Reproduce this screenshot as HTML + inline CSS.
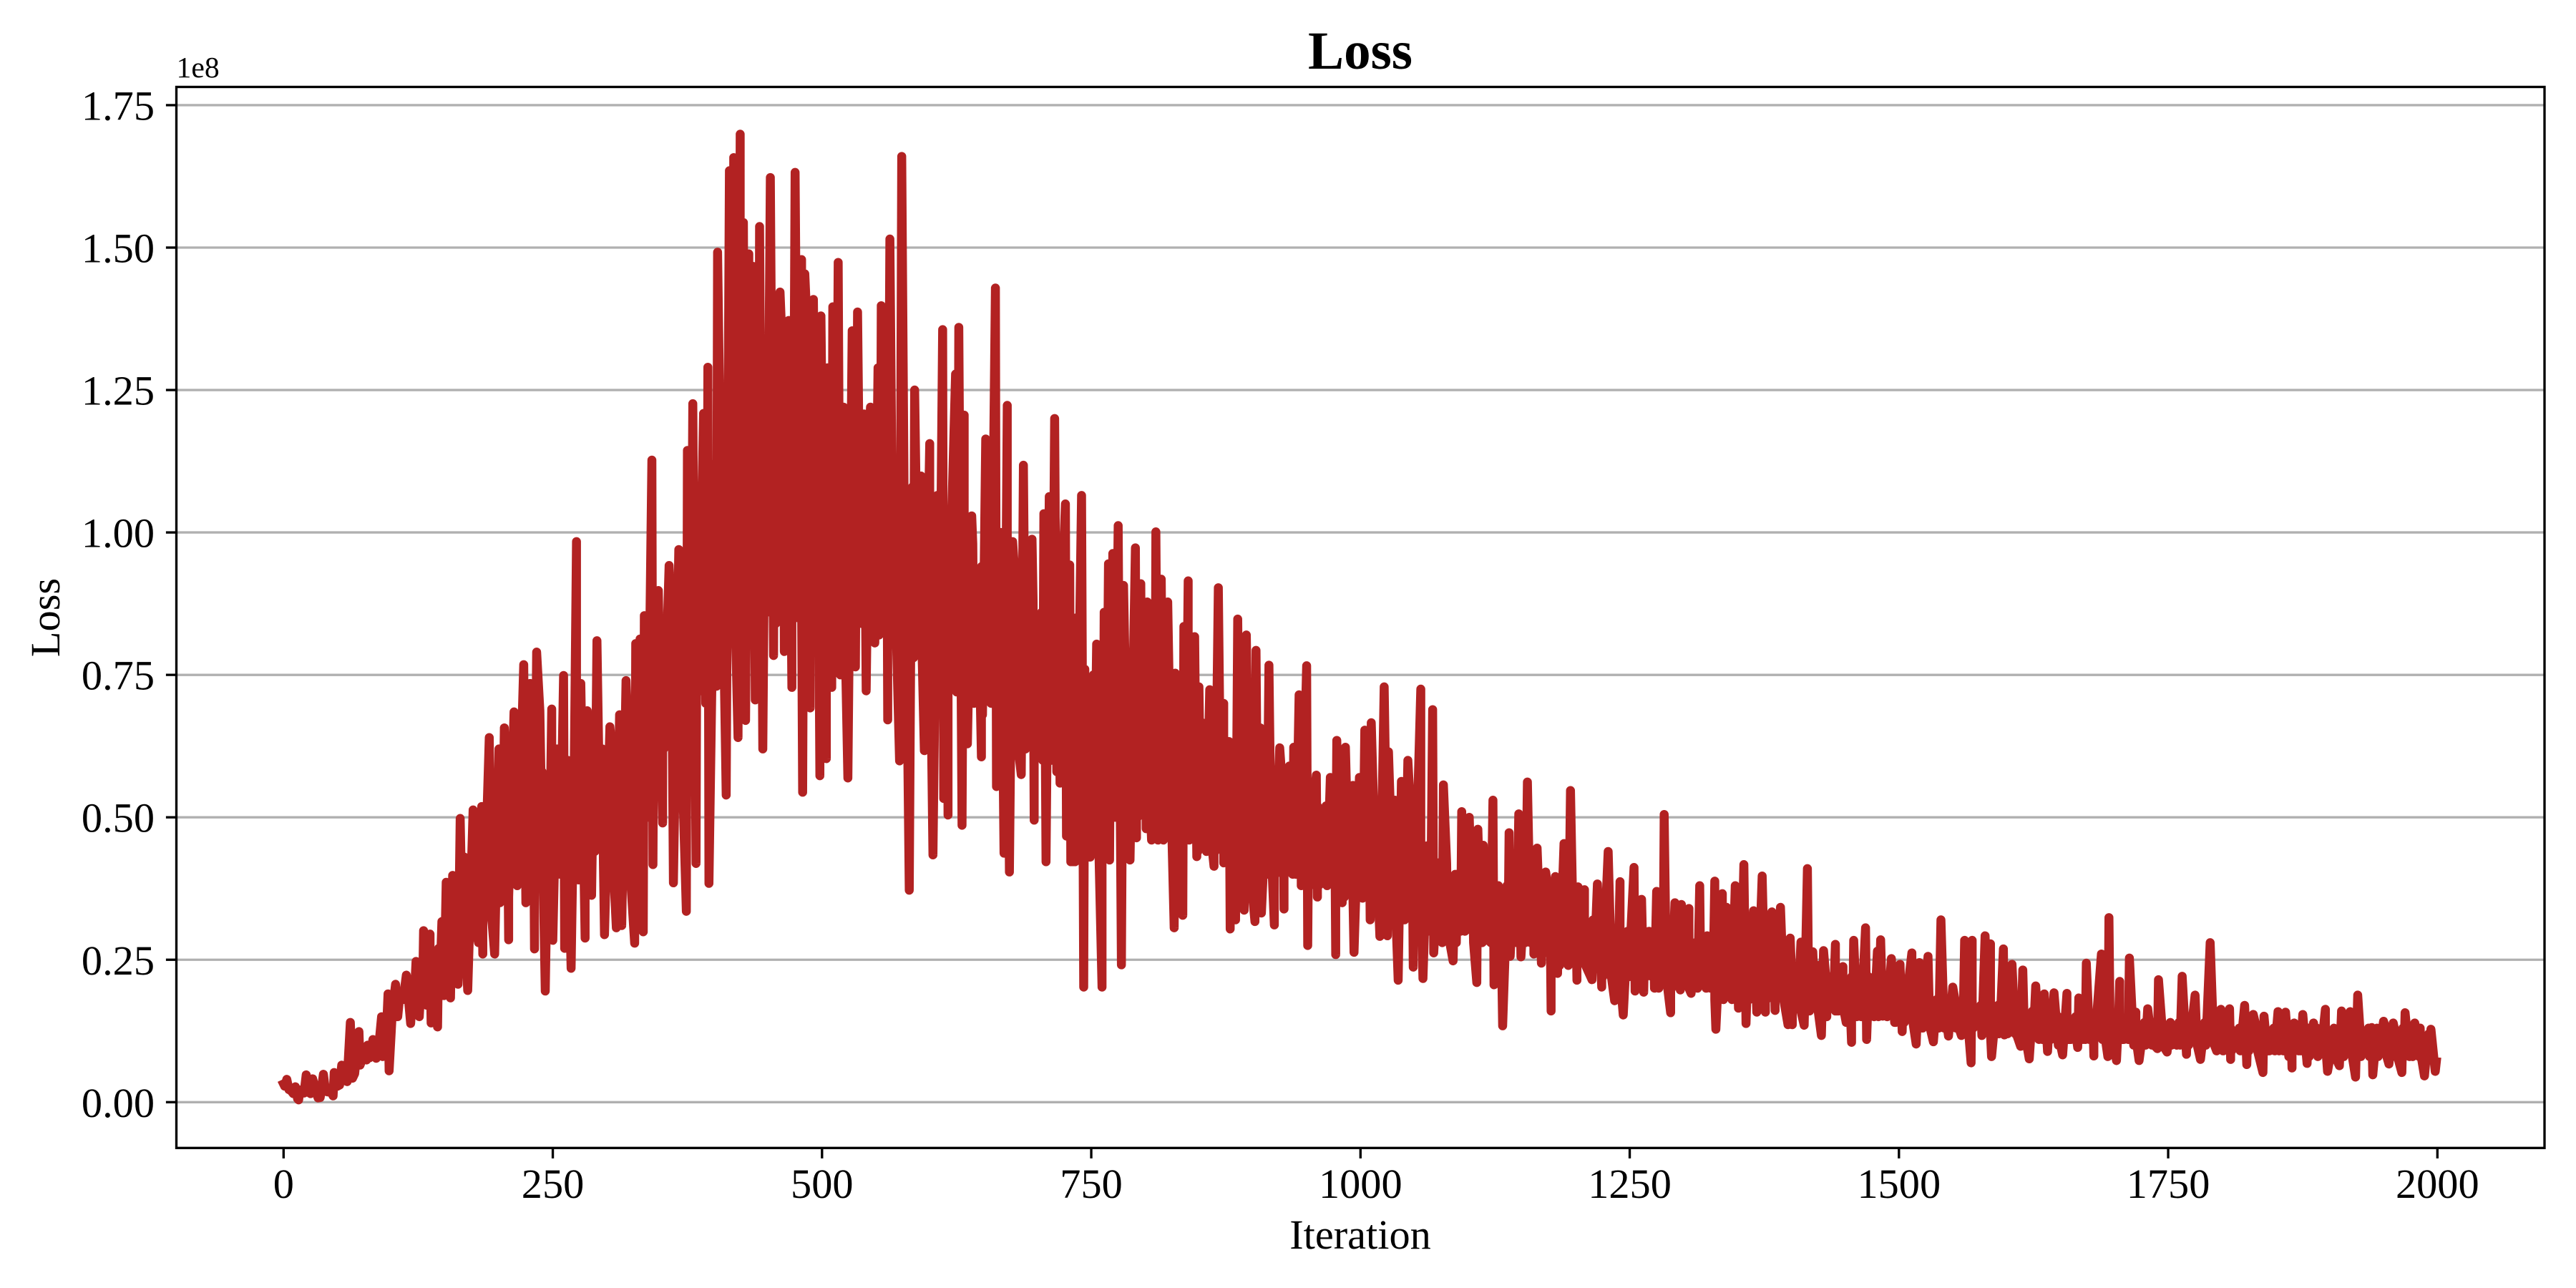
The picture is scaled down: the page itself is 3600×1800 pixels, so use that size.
<!DOCTYPE html>
<html lang="en">
<head>
<meta charset="utf-8">
<title>Loss</title>
<style>
html,body{margin:0;padding:0;background:#fff;width:3600px;height:1800px;overflow:hidden}
svg{display:block}
text{font-family:"Liberation Serif","Times New Roman",serif;fill:#000}
</style>
</head>
<body>
<svg id="chart" xmlns="http://www.w3.org/2000/svg" width="3600" height="1800" viewBox="0 0 3600 1800">
  <rect x="0" y="0" width="3600" height="1800" fill="#ffffff"/>
  <g id="grid"></g>
  <path id="series" fill="none" stroke="#b22222" stroke-width="12.5" stroke-linejoin="round" stroke-linecap="square"></path>
  <rect x="246.5" y="121.5" width="3309.5" height="1482.8" fill="none" stroke="#000" stroke-width="3.33"/>
  <g id="x-axis"></g>
  <g id="y-axis"></g>
  <text x="1901" y="96" font-size="75" font-weight="bold" text-anchor="middle">Loss</text>
  <text x="1901" y="1745" font-size="58.33" text-anchor="middle">Iteration</text>
  <text transform="translate(83 863) rotate(-90)" font-size="58.33" text-anchor="middle">Loss</text>
  <text x="246.5" y="108" font-size="41.67">1e8</text>
</svg>
<script>
const xTickValues = [0, 250, 500, 750, 1000, 1250, 1500, 1750, 2000];
const xTickLabels = ["0", "250", "500", "750", "1000", "1250", "1500", "1750", "2000"];
const yTickValues = [0, 25, 50, 75, 100, 125, 150, 175];
const yTickLabels = ["0.00", "0.25", "0.50", "0.75", "1.00", "1.25", "1.50", "1.75"];

const iterations = [
0,1,3,5,7,9,11,13,14,15,
17,19,21,23,25,27,30,32,34,37,
39,41,43,46,47,50,52,54,56,59,
62,64,66,70,71,74,77,78,80,83,
86,88,91,92,95,97,98,101,104,106,
108,111,114,118,123,126,130,133,136,137,
140,143,147,149,151,155,157,160,162,164,
166,168,171,176,179,181,184,185,188,191,
193,196,200,203,205,209,214,216,219,223,
225,229,233,235,238,240,243,246,249,250,
254,257,260,261,264,267,270,272,274,276,
280,282,286,291,294,298,303,309,312,314,
318,322,326,327,329,331,334,335,338,342,
343,348,352,358,362,367,370,374,375,378,
380,383,387,390,392,394,395,399,402,403,
407,411,414,416,418,420,422,424,426,427,
429,432,435,436,438,442,445,449,452,455,
458,461,465,469,472,475,478,481,482,484,
489,492,495,498,499,502,504,505,509,510,
513,515,517,521,524,528,531,533,536,539,
541,545,549,552,554,555,558,561,563,566,
568,572,574,578,581,583,586,589,592,595,
600,603,607,609,612,613,617,620,624,626,
627,630,632,635,639,642,645,648,652,655,
658,661,662,666,669,672,674,677,681,685,
687,690,695,697,700,703,706,708,711,714,
716,718,722,726,727,730,731,735,736,741,
743,747,749,752,755,757,760,762,764,766,
767,770,772,775,778,780,783,784,786,791,
792,796,797,802,804,806,810,812,815,817,
821,824,827,828,831,835,836,838,840,841,
846,848,850,852,853,856,860,862,864,868,
870,873,875,878,879,884,886,888,892,894,
897,902,903,905,907,908,912,915,917,920,
925,929,934,936,938,940,943,945,950,951,
955,959,960,965,968,972,974,977,978,981,
983,986,989,993,994,999,1002,1004,1006,1009,
1010,1014,1018,1022,1025,1026,1030,1032,1035,1038,
1041,1044,1049,1052,1056,1058,1062,1067,1068,1072,
1076,1077,1081,1086,1090,1093,1094,1098,1101,1104,
1108,1109,1112,1114,1115,1119,1123,1124,1127,1130,
1132,1135,1138,1139,1143,1147,1149,1152,1155,1158,
1161,1164,1168,1172,1177,1181,1183,1189,1192,1195,
1198,1201,1202,1205,1208,1215,1220,1224,1230,1236,
1241,1244,1249,1254,1255,1261,1263,1268,1271,1275,
1277,1282,1284,1288,1292,1295,1297,1298,1302,1305,
1307,1311,1315,1316,1319,1322,1325,1329,1330,1336,
1337,1340,1342,1348,1351,1356,1358,1362,1365,1368,
1373,1376,1382,1385,1390,1393,1397,1399,1401,1404,
1409,1412,1415,1417,1420,1422,1425,1428,1430,1433,
1436,1439,1441,1444,1448,1451,1454,1456,1458,1461,
1465,1469,1470,1474,1477,1480,1483,1485,1489,1493,
1496,1501,1503,1507,1512,1516,1519,1522,1527,1532,
1535,1539,1542,1546,1550,1554,1558,1561,1564,1567,
1568,1572,1577,1580,1583,1585,1586,1590,1594,1597,
1598,1602,1605,1608,1613,1615,1621,1627,1630,1635,
1638,1644,1648,1652,1656,1660,1666,1667,1671,1674,
1677,1681,1684,1688,1691,1694,1695,1698,1702,1705,
1709,1714,1718,1720,1723,1727,1731,1735,1740,1741,
1745,1749,1754,1758,1763,1767,1771,1775,1780,1785,
1789,1792,1795,1799,1803,1807,1808,1812,1817,1821,
1823,1829,1833,1838,1839,1844,1848,1852,1853,1859,
1862,1865,1867,1871,1875,1879,1885,1888,1892,1896,
1898,1903,1909,1911,1915,1919,1924,1926,1929,1933,
1939,1940,1945,1950,1955,1959,1963,1967,1970,1974,
1979,1983,1988,1991,1994,1998,1999
];

const lossMillions = [
3.2,2.8,4.0,2.2,2.0,1.5,2.7,0.6,0.4,2.0,
2.2,1.6,4.8,1.8,1.5,4.1,2.0,0.75,0.8,4.9,
1.9,1.8,2.2,1.1,5.2,2.8,3.0,6.5,4.2,3.6,
14,4.2,5,12.4,6.5,8,7.4,10,7.8,11,
7.7,9,15,8,10,19,5.5,16,20.7,15,
19,18,22.3,13.8,24.7,15,30.1,17,29.5,13.9,
22,13.2,31.7,18.7,38.6,18.3,39.8,24,20.7,49.8,
30,43,19.6,51.3,30,28,51.9,26,45,64,
40,26,62,38,65.7,28.5,68.5,43,50,76.8,
35,73.5,26.9,79,68.7,45,19.5,55,69,28.4,
62,40,74.9,27,60,23.5,60,98.4,39,73.5,
28.8,68.7,36.3,81,45,29.4,65.9,30.6,68,31,
74,40,27.9,80.5,45,81.3,29.9,85.4,50,112.7,
41.7,89.8,49,94.2,38.5,97,60,33.5,114.4,60,
122.6,41.9,90,120.9,70,129,38.4,90,73,149.2,
95,53.9,163.5,90,165.8,80,64,169.9,90,154.4,
67,148.9,85,146.7,70.6,153.7,62,100,162.3,78.4,
100,142.2,79.1,137.2,72.8,163.2,85,147.9,54.4,145.4,
69.2,140.9,85,57.3,138,85,60.3,128.9,72.8,139.6,
90,147.4,75,100,56.9,135.4,76.4,138.7,85,120.8,
72.2,122,80.6,128.9,85,139.8,90,67.1,151.5,85,
110,59.9,166,90,37.2,100,125,85,109.9,61.7,
115.6,43.4,106.5,70,135.6,53.3,50.4,100,127.8,80,
136,48.6,120.6,62.9,102.9,75,90,60.6,116.4,75,
90,142.9,55.4,100,43.7,122.3,40.4,98.4,70,57.5,
111.8,75,98.8,49.5,80,65,103.3,42.2,106.3,70,
120,58,85,105,46.7,94.3,42.2,42.2,85,106.5,
20.2,70,43,75,80.4,45,20.2,86,50,94.5,
42.5,96.3,50,101.2,24.1,90.7,60,77,42.5,97.3,
46.4,91,54.6,87.8,55,46,100.1,46,91.8,46,
87.8,55,30.6,75.3,50,32.8,83.5,55,91.5,48.5,
81.7,43.1,72.9,45,66.6,50,72.4,45,41.4,90.3,
55,70,50,63.3,30.4,32,84.8,45,33.7,82,
45,31.7,79.3,45,65.7,33.2,50,76.7,45,31.1,
62.2,33.9,59,43.1,62.3,40,71.5,45,76.6,27.5,
50,57.4,36,38.7,50,57,40,25.9,63.5,40,
35,62.3,40,55.6,26.3,57,35.8,65.3,40,32,
66.6,40,29.1,72.9,29.2,61.5,38,53,21.4,56.3,
35,60,23.7,45,72.5,21.7,45,68.9,26.2,40,
28,55.7,30,24.8,40,30,51,35,50,30,
21,47.9,28,45.1,28.3,35,53,20.6,35,37.3,
13.4,30,47.3,25.6,40,50.6,25.5,35,56.2,28,
30,44.6,24.4,40.4,16,39.6,22.6,45.4,25,54.7,
25,21.4,37.8,25,37.3,21.5,38.3,20.2,44,17.8,
38.7,15.3,28,41.2,19.5,35.6,19.3,30,22,37,
20,50.5,22,15.7,35,22,19.7,34.7,23,34,
19.1,28,38,20.7,26,29.2,20,38.8,12.8,36.6,
18.3,34.2,20.1,38,16.5,41.7,13.8,24,33.6,15.8,
39.7,15.8,33.4,16.1,34.2,18,13.6,28.8,13.6,16.5,
28.1,13.5,41,16,26.4,17.2,24,11.7,26.6,15,
22,16.5,27.7,16,23.8,14,20,10.5,28.4,15,
22,30.6,11,20,15,26.5,28.5,15.1,19,25.2,
14,24.2,12.4,18,26.2,10.2,24.5,13,25.6,10.6,
18,32,13,11.6,20.2,14,11.7,28.4,14,6.9,
28.4,14,11.7,29.2,14,27.8,8,16,14,26.9,
11.8,16,24.2,12,9.8,23.2,7.6,20.4,11,19,
8.9,19.2,10,8.3,19.1,11,9.6,18.3,11,24.4,
11,8.1,16,26,12,8,32.4,12,7.3,21.2,
11,25.3,10,15.8,7.3,13,16.4,10,9.4,21.5,
11,8.8,13.1,10,22.1,8.4,12,18.8,7.5,12,
28,12,9,16.3,10,16.4,7.5,11,12,17,
6.6,15.4,9,5.2,15.1,9,10,15.9,9,15.8,
8,6,13.9,9,15.4,6.8,13.9,9,9,16.3,
5.4,11,6.4,16,9,15.9,4.4,18.8,8,11,
13.1,4.8,9,14.2,6.7,13.9,8,5.2,15.7,8,
13.9,8,4.6,11,12.8,5.4,7.1
];

const bodyIterations = [
120,128,136,144,152,160,168,176,184,192,
200,208,216,224,232,240,248,256,264,272,
280,288,296,304,312,320,328,336,344,352,
360,368,376,384,392,400,408,416,424,432,
440,448,456,464,472,480,488,496,504,512,
520,528,536,544,552,560,568,576,584,592,
600,608,616,624,632,640,648,656,664,672,
680,688,696,704,712,720,728,736,744,752,
760,768,776,784,792,800,808,816,824,832,
840,848,856,864,872,880,888,896,904,912,
920,928,936,944,952,960,968,976,984,992,
1000,1008,1016,1024,1032,1040,1048,1056,1064,1072,
1080,1088,1096,1104,1112,1120,1128,1136,1144,1152,
1160,1168,1176,1184,1192,1200,1208,1216,1224,1232,
1240,1248,1256,1264,1272,1280,1288,1296,1304,1312,
1320,1328,1336,1344,1352,1360,1368,1376,1384,1392,
1400,1408,1416,1424,1432,1440,1448,1456,1464,1472,
1480,1488,1496,1504,1512,1520,1528,1536,1544,1552,
1560,1568,1576,1584,1592,1600,1608,1616,1624,1632,
1640,1648,1656,1664,1672,1680,1688,1696,1704,1712,
1720,1728,1736,1744,1752,1760,1768,1776,1784,1792,
1800,1808,1816,1824,1832,1840,1848,1856,1864,1872,
1880,1888,1896,1904,1912,1920,1928,1936,1944,1952,
1960,1968,1976,1984,1992
];

const bodyUpper = [
20,22,25,27,30,33,36,38,42,46,
48,50,52,54,56,58,56,60,58,62,
60,62,62,64,66,64,68,72,78,82,
86,90,96,102,108,112,118,124,130,132,
134,130,132,128,130,126,128,124,126,124,
122,120,118,118,114,116,112,112,108,106,
104,102,100,100,96,98,94,96,92,92,
90,90,88,86,86,84,80,78,76,74,
74,76,72,72,74,70,68,68,66,64,
64,62,60,60,58,58,58,56,56,56,
54,54,56,54,52,52,52,52,50,50,
52,52,50,48,48,46,46,46,44,42,
42,40,40,40,40,38,38,38,38,38,
36,36,34,34,34,34,32,32,32,30,
30,30,30,30,30,30,30,28,28,28,
28,28,28,26,26,26,26,26,24,24,
24,24,22,22,22,22,22,22,22,22,
22,20,20,20,20,20,18,18,18,18,
18,18,17,17,17,16,16,16,16,16,
16,15,15,15,15,15,15,15,15,15,
14,14,14,14,14,14,14,14,14,14,
13,13,13,13,13,13,13,13,13,13,
13,13,13,13,13,13,13,13,13,13,
13,13,13,13,12
];

const bodyLower = [
17,18,19,20,22,25,27,29,31,33,
35,36,38,36,38,40,38,42,40,44,
42,44,42,46,46,48,48,54,58,62,
64,66,68,72,72,76,78,82,82,84,
84,86,84,88,86,88,84,88,86,88,
86,86,84,86,82,84,82,80,78,78,
74,74,72,72,70,70,68,70,66,66,
64,62,62,60,60,56,56,54,52,52,
50,52,50,50,50,48,48,46,46,46,
46,44,44,44,42,42,42,42,40,40,
40,40,40,38,38,38,38,38,36,36,
36,36,34,34,32,32,30,30,30,30,
30,28,30,28,28,28,28,28,28,28,
26,26,26,24,24,24,24,24,22,22,
22,22,20,22,20,22,20,20,20,20,
20,18,18,18,18,18,18,18,18,18,
16,16,16,16,16,16,16,15,15,15,
15,15,14,14,14,14,13,13,13,13,
13,13,12,12,12,12,12,12,12,11,
11,11,11,11,11,11,11,11,11,11,
10,10,10,10,10,10,10,10,10,10,
9,9,9,9,9,9,9,9,9,9,
8,8,8,8,8,8,8,8,8,8,
8,8,8,8,8
];

const SVG_NS = "http://www.w3.org/2000/svg";
const xOrigin = 396.3, xPerIteration = 1.505;
const yOrigin = 1540.3, yPerMillion = 7.962;
const plotLeft = 246.5, plotRight = 3556, plotBottom = 1604.3;

function xScale(iteration) { return xOrigin + iteration * xPerIteration; }
function yScale(millions) { return yOrigin - millions * yPerMillion; }

function svgLine(x1, y1, x2, y2, color) {
  const line = document.createElementNS(SVG_NS, "line");
  line.setAttribute("x1", x1);
  line.setAttribute("y1", y1);
  line.setAttribute("x2", x2);
  line.setAttribute("y2", y2);
  line.setAttribute("stroke", color);
  line.setAttribute("stroke-width", "3.33");
  return line;
}

function svgLabel(x, y, anchor, content) {
  const text = document.createElementNS(SVG_NS, "text");
  text.setAttribute("x", x);
  text.setAttribute("y", y);
  text.setAttribute("font-size", "58.33");
  text.setAttribute("text-anchor", anchor);
  text.textContent = content;
  return text;
}

const gridGroup = document.getElementById("grid");
const yAxisGroup = document.getElementById("y-axis");
const xAxisGroup = document.getElementById("x-axis");

yTickValues.forEach(function (value, index) {
  const y = yScale(value);
  const gridLine = svgLine(plotLeft, y, plotRight, y, "#b0b0b0");
  
  
  gridGroup.appendChild(gridLine);

  const tick = svgLine(plotLeft - 14.6, y, plotLeft, y, "#000");
  
  
  yAxisGroup.appendChild(tick);

  const label = svgLabel(216, y + 20.5, "end", yTickLabels[index]);
  
  
  yAxisGroup.appendChild(label);
});

xTickValues.forEach(function (value, index) {
  const x = xScale(value);
  const tick = svgLine(x, plotBottom, x, plotBottom + 14.6, "#000");
  
  
  xAxisGroup.appendChild(tick);

  const label = svgLabel(x, 1674, "middle", xTickLabels[index]);
  
  
  xAxisGroup.appendChild(label);
});

const points = [];
const spikeCount = Math.min(iterations.length, lossMillions.length);
for (let i = 0; i < spikeCount; i++) {
  points.push([iterations[i], lossMillions[i]]);
}
const bodyCount = Math.min(bodyIterations.length, bodyUpper.length, bodyLower.length);
for (let i = 0; i < bodyCount; i++) {
  points.push([bodyIterations[i], bodyUpper[i]]);
  points.push([bodyIterations[i] + 1, bodyLower[i]]);
}
points.sort(function (a, b) { return a[0] - b[0]; });

const commands = [];
points.forEach(function (point, i) {
  commands.push((i === 0 ? "M" : "L") + xScale(point[0]).toFixed(2) + " " + yScale(point[1]).toFixed(2));
});
document.getElementById("series").setAttribute("d", commands.join(""));
</script>
</body>
</html>
